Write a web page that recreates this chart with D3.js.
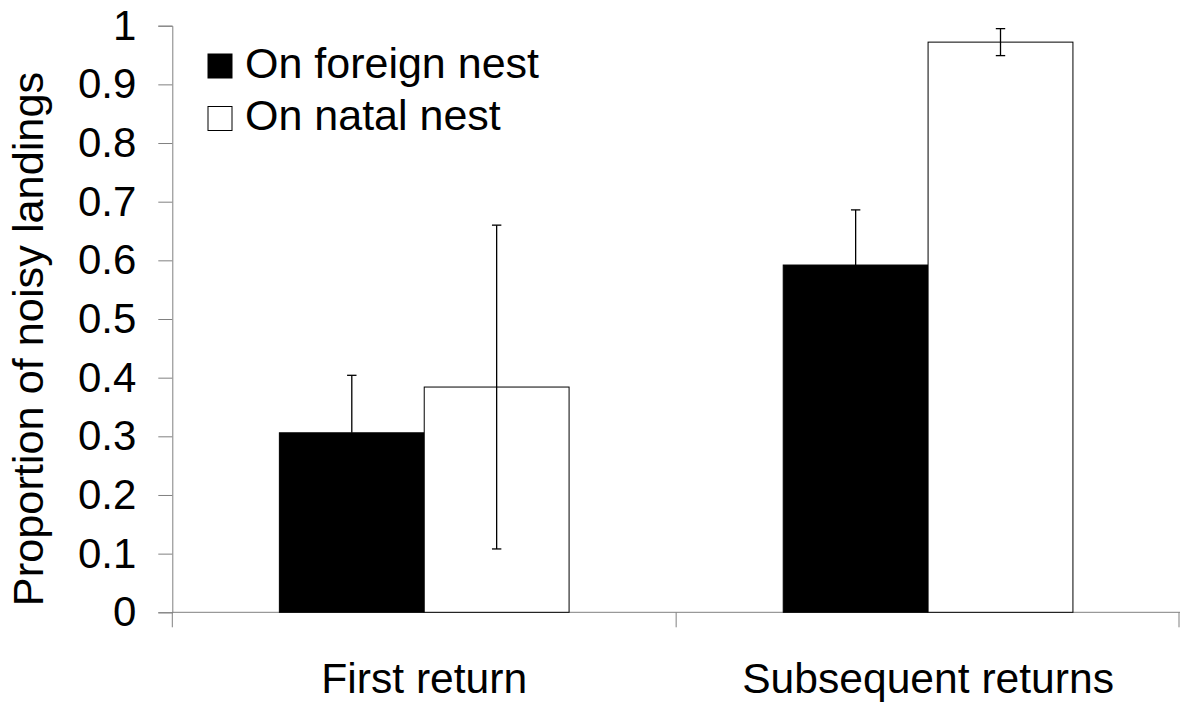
<!DOCTYPE html>
<html>
<head>
<meta charset="utf-8">
<script src="https://cdn.jsdelivr.net/npm/d3@7"></script>
<style>
    body { margin: 0; background: #fff; }
    text { font-family: "Liberation Sans", Arial, sans-serif; fill: #000; }
</style>
</head>
<body>
<svg id="chart" width="1180" height="702"></svg>
<script>
// data
const categories = ["First return", "Subsequent returns"]
const seriesNames = ["On foreign nest", "On natal nest"]
const seriesColors = ["#000000", "#ffffff"]
const foreignValues = [0.306, 0.592]
const foreignErrors = [0.098, 0.094]
const natalValues = [0.384, 0.972]
const natalErrors = [0.276, 0.023]
const yTicks = [0, 0.1, 0.2, 0.3, 0.4, 0.5, 0.6, 0.7, 0.8, 0.9, 1]

const rows = []
categories.forEach((c, i) => {
    rows.push({ cat: c, s: 0, v: foreignValues[i], e: foreignErrors[i] })
    rows.push({ cat: c, s: 1, v: natalValues[i], e: natalErrors[i] })
})

const svg = d3.select("#chart")
const axisColor = "#808080"

const y = d3.scaleLinear().domain([0, 1]).range([612.3, 25.7])
const x = d3.scaleBand().domain(categories).range([172.3, 1180]).paddingInner(0).paddingOuter(0)
const groupWidth = x.bandwidth() * 0.575
const xs = d3.scaleBand().domain([0, 1]).range([0, groupWidth])

// y axis
const yAxis = svg.append("g")
    .attr("transform", `translate(${x.range()[0]},0)`)
    .call(d3.axisLeft(y).tickValues(yTicks).tickSize(14).tickPadding(22).tickFormat(d3.format("~g")))
yAxis.select(".domain").attr("stroke", axisColor)
yAxis.selectAll(".tick line").attr("stroke", axisColor)
yAxis.selectAll(".tick text")
    .style("font-size", "42px")
    .style("font-family", "'Liberation Sans', Arial, sans-serif")
    .attr("fill", "#000")

// x axis (ticks at the band edges)
const xBase = y(0)
const xAxis = svg.append("g")
xAxis.append("line")
    .attr("x1", x.range()[0]).attr("x2", x.range()[1])
    .attr("y1", xBase).attr("y2", xBase)
    .attr("stroke", axisColor)
xAxis.selectAll("line.edge")
    .data([0, 1, 2])
    .enter()
    .append("line")
    .attr("class", "edge")
    .attr("x1", d => d < 2 ? x(categories[d]) : x.range()[1] - 1)
    .attr("x2", d => d < 2 ? x(categories[d]) : x.range()[1] - 1)
    .attr("y1", xBase).attr("y2", xBase + 15)
    .attr("stroke", axisColor)
xAxis.selectAll("text")
    .data(categories)
    .enter()
    .append("text")
    .attr("x", d => x(d) + x.bandwidth() / 2)
    .attr("y", 693)
    .attr("text-anchor", "middle")
    .style("font-size", "42.6px")
    .text(d => d)

// bars
const groups = svg.append("g")
groups.selectAll("rect")
    .data(rows)
    .enter()
    .append("rect")
    .attr("x", d => x(d.cat) + (x.bandwidth() - groupWidth) / 2 + xs(d.s))
    .attr("y", d => y(d.v))
    .attr("width", xs.bandwidth())
    .attr("height", d => y(0) - y(d.v))
    .attr("fill", d => seriesColors[d.s])
    .attr("stroke", "#000")
    .attr("stroke-width", 1)

// error bars
const err = svg.append("g").attr("stroke", "#000").attr("stroke-width", 1.3)
rows.forEach(d => {
    const cx = x(d.cat) + (x.bandwidth() - groupWidth) / 2 + xs(d.s) + xs.bandwidth() / 2
    const lo = d.s === 0 ? d.v : d.v - d.e
    err.append("line")
        .attr("x1", cx).attr("x2", cx)
        .attr("y1", y(d.v + d.e)).attr("y2", y(lo))
    err.append("line")
        .attr("x1", cx - 4.7).attr("x2", cx + 4.7)
        .attr("y1", y(d.v + d.e)).attr("y2", y(d.v + d.e))
    if (d.s === 1) {
        err.append("line")
            .attr("x1", cx - 4.7).attr("x2", cx + 4.7)
            .attr("y1", y(lo)).attr("y2", y(lo))
    }
})

// y title
svg.append("text")
    .attr("transform", `translate(43,${y(0.5) + 20}) rotate(-90)`)
    .attr("text-anchor", "middle")
    .style("font-size", "43.3px")
    .text("Proportion of noisy landings")

// legend
const legend = svg.append("g")
    .selectAll("g")
    .data(seriesNames)
    .enter()
    .append("g")
    .attr("transform", (d, i) => `translate(208,${54 + i * 52.5})`)
legend.append("rect")
    .attr("width", 24).attr("height", 24)
    .attr("fill", (d, i) => seriesColors[i])
    .attr("stroke", "#000")
legend.append("text")
    .attr("x", 37)
    .attr("y", 23.5)
    .style("font-size", "43px")
    .text(d => d)
</script>
</body>
</html>
